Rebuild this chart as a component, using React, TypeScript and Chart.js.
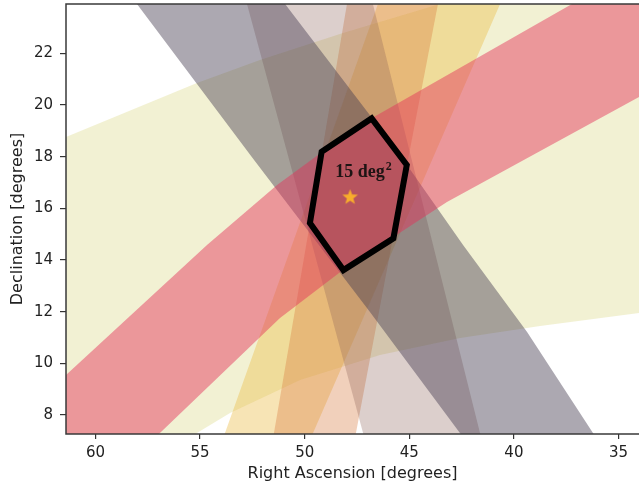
import React, { useEffect, useRef } from 'react';
import { Chart, registerables } from 'chart.js';

Chart.register(...registerables);

// ---- axes ----
const X_MIN = 34.02;
const X_MAX = 61.41;
const Y_MIN = 7.267;
const Y_MAX = 23.908;
const X_TICK_STEP = 5;
const Y_TICK_STEP = 2;
const X_TITLE = 'Right Ascension [degrees]';
const Y_TITLE = 'Declination [degrees]';

// ---- bands (RA, Dec) polygon vertices ----
const YELLOW_BAND: [number, number][] = [
  [63.13, 18.18], [61.41, 18.76], [55.15, 20.85], [52.14, 21.74], [48.17, 22.79],
  [43.53, 23.91], [38.75, 25.03], [32.06, 26.19],
  [32.06, 12.34], [34.02, 11.95], [38.75, 11.45], [42.57, 10.98], [46.4, 10.32],
  [50.22, 9.36], [53.57, 8.08], [55.15, 7.31], [56.44, 6.45], [63.13, 2.39],
];
const ORANGE_BAND_LIGHT: [number, number][] = [
  [45.92, 25.22], [46.5, 23.91], [53.81, 7.31], [54.48, 5.76],
  [50.42, 5.76], [49.6, 7.31], [40.66, 23.91], [39.95, 25.22],
];
const ORANGE_BAND: [number, number][] = [
  [47.69, 25.22], [47.98, 23.91], [49.75, 15.43], [51.47, 7.31], [51.8, 5.76],
  [47.93, 5.76], [47.55, 7.31], [45.78, 14.85], [43.63, 23.91], [43.34, 25.22],
];
const GRAY_BAND_STEEP: [number, number][] = [
  [53.19, 25.22], [52.76, 23.91], [47.21, 7.31], [46.69, 5.76],
  [41.14, 5.76], [41.62, 7.31], [46.74, 23.91], [47.12, 25.22],
];
const GRAY_BAND_WIDE: [number, number][] = [
  [59.26, 25.22], [58.02, 23.91], [52.42, 17.87], [46.88, 11.99], [42.58, 7.31], [41.14, 5.76],
  [34.93, 5.76], [36.22, 7.31], [39.37, 11.21], [42.43, 14.58], [45.11, 17.68], [46.78, 19.5],
  [50.94, 23.91], [52.14, 25.22],
];
const RED_BAND: [number, number][] = [
  [63.61, 7.92], [61.41, 9.55], [54.67, 14.58], [51.32, 16.9], [49.17, 18.18], [46.78, 19.5],
  [43.68, 20.93], [37.22, 23.91], [32.06, 26.19],
  [32.06, 20.73], [34.02, 20.31], [43.2, 16.25], [48.17, 13.61], [51.18, 11.76],
  [56.92, 7.31], [58.83, 5.87], [63.61, 3.94],
];

// ---- localisation region, source and label ----
const HEXAGON: [number, number][] = [
  [46.8, 19.48], [49.19, 18.19], [49.75, 15.43], [48.15, 13.61], [45.76, 14.84], [45.12, 17.68],
];
const SOURCE: [number, number] = [47.83, 16.45];
const LABEL_POS: [number, number] = [47.19, 17.21];
const LABEL_TEXT = '15 deg';
const LABEL_SUP = '2';

const FONT = 'DejaVu Sans';

const toXY = (pts: [number, number][]) => pts.map(([x, y]) => ({ x, y }));

function band(pts: [number, number][], color: string, order: number) {
  return {
    data: toXY(pts),
    showLine: true,
    fill: 'shape',
    backgroundColor: color,
    borderColor: 'rgba(0,0,0,0)',
    borderWidth: 0,
    pointRadius: 0,
    order,
  };
}

function makeStar(size: number, color: string) {
  const c = document.createElement('canvas');
  c.width = size;
  c.height = size;
  const g = c.getContext('2d')!;
  const cx = size / 2;
  const cy = size / 2 + 0.6;
  const R = size / 2 - 0.3;
  const r = R * 0.42;
  g.beginPath();
  for (let i = 0; i < 10; i++) {
    const a = -Math.PI / 2 + (i * Math.PI) / 5;
    const rad = i % 2 === 0 ? R : r;
    g.lineTo(cx + rad * Math.cos(a), cy + rad * Math.sin(a));
  }
  g.closePath();
  g.fillStyle = color;
  g.fill();
  return c;
}

const framePlugin = {
  id: 'frame',
  afterDatasetsDraw(chart: any) {
    const { ctx, chartArea: a } = chart;
    ctx.save();
    ctx.strokeStyle = '#3a3a3a';
    ctx.lineWidth = 1.5;
    ctx.beginPath();
    ctx.moveTo(a.right + 2, a.top);
    ctx.lineTo(a.left, a.top);
    ctx.lineTo(a.left, a.bottom);
    ctx.lineTo(a.right + 2, a.bottom);
    ctx.stroke();
    ctx.restore();
  },
};

const labelPlugin = {
  id: 'areaLabel',
  afterDatasetsDraw(chart: any) {
    const { ctx, scales } = chart;
    const px = scales.x.getPixelForValue(LABEL_POS[0]);
    const py = scales.y.getPixelForValue(LABEL_POS[1]);
    const big = 'bold 18px "Liberation Serif", serif';
    const small = 'bold 12px "Liberation Serif", serif';
    ctx.save();
    ctx.fillStyle = '#1e1414';
    ctx.textBaseline = 'alphabetic';
    ctx.textAlign = 'left';
    ctx.font = big;
    const w1 = ctx.measureText(LABEL_TEXT).width;
    ctx.font = small;
    const w2 = ctx.measureText(LABEL_SUP).width;
    const start = px - (w1 + w2 + 1) / 2;
    ctx.font = big;
    ctx.fillText(LABEL_TEXT, start, py);
    ctx.font = small;
    ctx.fillText(LABEL_SUP, start + w1 + 1, py - 7);
    ctx.restore();
  },
};

export default function App() {
  const ref = useRef<HTMLCanvasElement | null>(null);

  useEffect(() => {
    if (!ref.current) return;
    Chart.defaults.font.family = FONT;
    const star = makeStar(17, '#f8ad2c');
    const chart = new Chart(ref.current, {
      type: 'scatter',
      data: {
        datasets: [
          band(YELLOW_BAND, 'rgba(205,200,80,0.25)', 20),
          band(ORANGE_BAND_LIGHT, 'rgba(235,185,60,0.38)', 19),
          band(ORANGE_BAND, 'rgba(215,120,60,0.35)', 18),
          band(GRAY_BAND_STEEP, 'rgba(140,95,85,0.3)', 17),
          band(GRAY_BAND_WIDE, 'rgba(70,62,82,0.45)', 16),
          band(RED_BAND, 'rgba(228,50,92,0.47)', 15),
          {
            data: toXY([...HEXAGON, HEXAGON[0], HEXAGON[1]]),
            showLine: true,
            fill: false,
            borderColor: '#000000',
            borderWidth: 6,
            borderJoinStyle: 'miter',
            pointRadius: 0,
            order: 2,
          },
          {
            data: [{ x: SOURCE[0], y: SOURCE[1] }],
            pointStyle: star,
            pointRadius: 8,
            pointHoverRadius: 8,
            showLine: false,
            order: 1,
          },
        ] as any,
      },
      options: {
        responsive: false,
        animation: false,
        events: [],
        layout: { autoPadding: false, padding: { top: 4, right: 0, left: 0, bottom: 0 } },
        plugins: { legend: { display: false }, tooltip: { enabled: false } },
        scales: {
          x: {
            type: 'linear',
            reverse: true,
            min: X_MIN,
            max: X_MAX,
            afterFit: (s: any) => {
              s.height = 53;
              s.paddingLeft = 0;
              s.paddingRight = 0;
            },
            ticks: {
              stepSize: X_TICK_STEP,
              includeBounds: false,
              maxRotation: 0,
              padding: 5,
              color: '#222',
              font: { size: 15, family: FONT },
            },
            grid: { drawOnChartArea: false, drawTicks: true, tickLength: 5, color: '#333', lineWidth: 1.2 },
            border: { display: false },
            title: {
              display: true,
              text: X_TITLE,
              color: '#222',
              font: { size: 16, family: FONT },
              padding: { top: 0, bottom: 4 },
            },
          },
          y: {
            type: 'linear',
            min: Y_MIN,
            max: Y_MAX,
            afterFit: (s: any) => {
              s.width = 66;
              s.paddingTop = 0;
              s.paddingBottom = 0;
            },
            ticks: {
              stepSize: Y_TICK_STEP,
              includeBounds: false,
              padding: 7,
              color: '#222',
              font: { size: 15, family: FONT },
            },
            grid: { drawOnChartArea: false, drawTicks: true, tickLength: 6, color: '#333', lineWidth: 1.2 },
            border: { display: false },
            title: {
              display: true,
              text: Y_TITLE,
              color: '#222',
              font: { size: 16, family: FONT },
              padding: { top: 8, bottom: 0 },
            },
          },
        },
      } as any,
      plugins: [framePlugin, labelPlugin],
    });
    return () => chart.destroy();
  }, []);

  return (
    <div style={{ position: 'fixed', left: 0, top: 0, width: 639, height: 487, background: '#fff' }}>
      <canvas ref={ref} width={639} height={487} style={{ display: 'block' }} />
    </div>
  );
}
